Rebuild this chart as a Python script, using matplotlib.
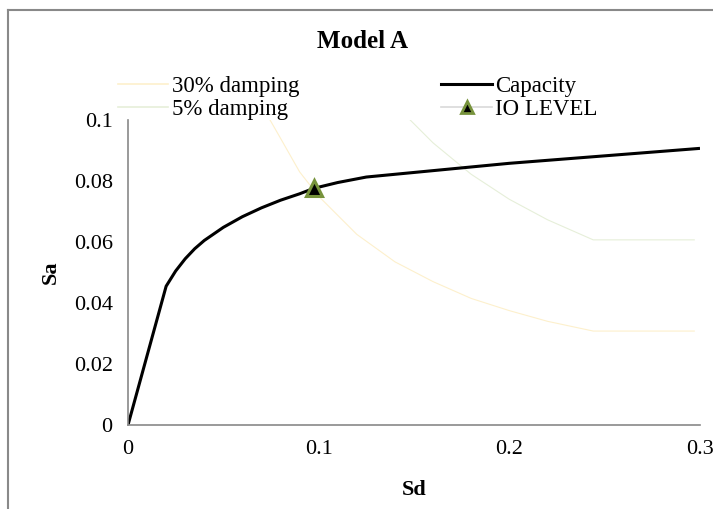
import matplotlib.pyplot as plt
from matplotlib.lines import Line2D

# capacity curve
sd_capacity = [0, 0.02, 0.025, 0.03, 0.035, 0.04, 0.05, 0.06, 0.07, 0.08, 0.09, 0.0975, 0.11, 0.125, 0.2, 0.3]
sa_capacity = [0, 0.0455, 0.0505, 0.0545, 0.0578, 0.0605, 0.0648, 0.0683, 0.0712, 0.0737, 0.0758, 0.0776, 0.0795, 0.0813, 0.0858, 0.0907]

# demand spectra
sd_30 = [0.0745, 0.08, 0.09, 0.1, 0.12, 0.14, 0.16, 0.18, 0.2, 0.22, 0.244, 0.297]
sa_30 = [0.100, 0.094, 0.083, 0.075, 0.0625, 0.0535, 0.047, 0.0415, 0.0375, 0.034, 0.0308, 0.0308]

sd_5 = [0.148, 0.16, 0.18, 0.2, 0.22, 0.244, 0.297]
sa_5 = [0.100, 0.0925, 0.0822, 0.074, 0.0673, 0.0607, 0.0607]

# performance point
sd_io = [0.0975]
sa_io = [0.0776]

x_ticks = [0, 0.1, 0.2, 0.3]
y_ticks = [0, 0.02, 0.04, 0.06, 0.08, 0.1]
x_tick_labels = ["0", "0.1", "0.2", "0.3"]
y_tick_labels = ["0", "0.02", "0.04", "0.06", "0.08", "0.1"]

plt.rcParams["font.family"] = ["Liberation Serif", "DejaVu Serif"]

fig = plt.figure(figsize=(7.13, 5.09), dpi=100)
ax = fig.add_axes([128 / 713, 1 - 425 / 509, (700 - 128) / 713, (425 - 120) / 509])

c30 = "#FDF0CC"
c5 = "#E6EFD9"
ax.plot(sd_30, sa_30, color=c30, lw=0.8, label="30% damping")
ax.plot(sd_5, sa_5, color=c5, lw=0.8, label="5% damping")
ax.plot(sd_capacity, sa_capacity, color="black", lw=2.2, label="Capacity", solid_capstyle="butt")
ax.plot(sd_io, sa_io, color="#D9D9D9", lw=1.2, marker="^", markersize=11,
        markerfacecolor="black", markeredgecolor="#77933C", markeredgewidth=2.2,
        linestyle="none", label="IO LEVEL", zorder=5)

ax.set_xlim(0, 0.3)
ax.set_ylim(0, 0.1)
ax.set_xticks(x_ticks)
ax.set_xticklabels(x_tick_labels)
ax.set_yticks(y_ticks)
ax.set_yticklabels(y_tick_labels)
ax.tick_params(length=0, labelsize=16, colors="black")
ax.tick_params(axis="x", pad=11)
ax.tick_params(axis="y", pad=11)
for side in ["top", "right"]:
    ax.spines[side].set_visible(False)
for side in ["left", "bottom"]:
    ax.spines[side].set_color("#898989")
    ax.spines[side].set_linewidth(1.2)

ax.set_xlabel("Sd", fontsize=16, fontweight="bold", labelpad=15)
ax.set_ylabel("Sa", fontsize=16, fontweight="bold", labelpad=9)

fig.text(362 / 713, 1 - 42 / 509, "Model A", ha="center", va="center", fontsize=18, fontweight="bold")

handles = [
    Line2D([], [], color=c30, lw=1.2),
    Line2D([], [], color=c5, lw=1.2),
    Line2D([], [], color="black", lw=2.2),
    Line2D([], [], color="#D9D9D9", lw=1.2, marker="^", markersize=9,
           markerfacecolor="black", markeredgecolor="#77933C", markeredgewidth=2),
]
labels = ["30% damping", "5% damping", "Capacity", "IO LEVEL"]
fig.legend(handles, labels, ncol=2, loc="upper left", bbox_to_anchor=(118 / 713, 1 - 76 / 509),
           frameon=False, fontsize=16.5, handlelength=2.2, handletextpad=0.15,
           columnspacing=6.2, labelspacing=0.1, borderpad=0, borderaxespad=0)

# outer chart frame
fig.add_artist(Line2D([8 / 713, 8 / 713], [0, 1 - 10 / 509], color="#898989", lw=1.5))
fig.add_artist(Line2D([8 / 713, 1], [1 - 10 / 509, 1 - 10 / 509], color="#898989", lw=1.5))

fig.savefig("out.png", dpi=100)
